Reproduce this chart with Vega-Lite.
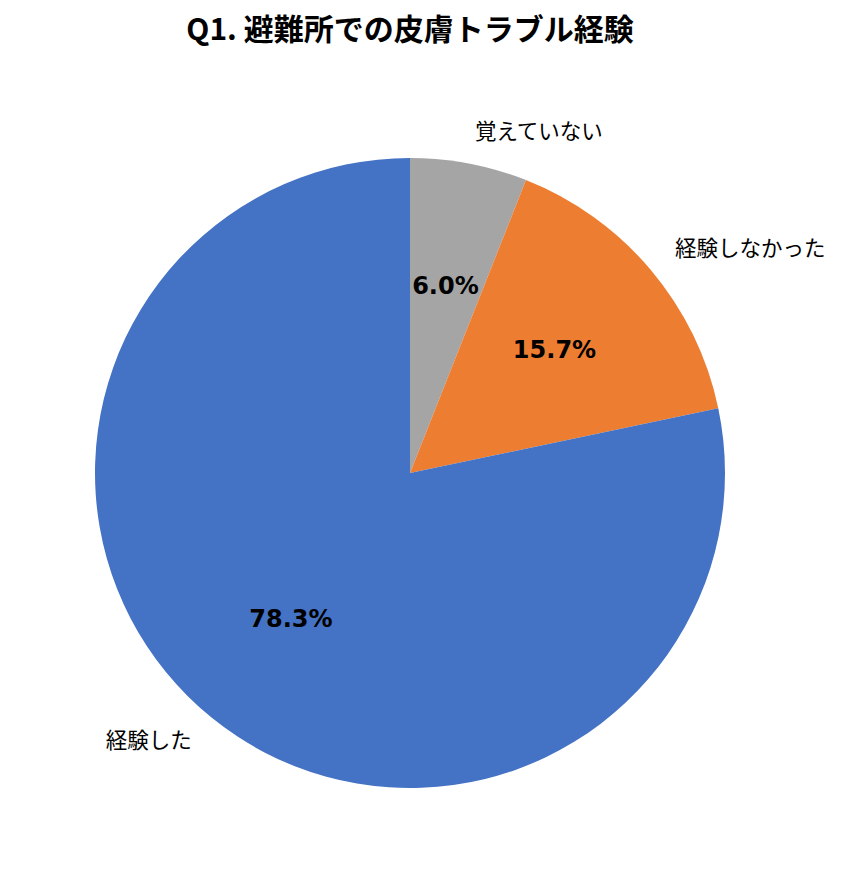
{
  "$schema": "https://vega.github.io/schema/vega-lite/v6.json",
  "width": 820,
  "height": 820,
  "autosize": {"type": "none"},
  "padding": {"left": 0, "top": 63, "right": 30, "bottom": 0},
  "background": "white",
  "title": {
    "text": "Q1. 避難所での皮膚トラブル経験",
    "font": "Noto Sans CJK JP",
    "fontSize": 30,
    "fontWeight": "bold",
    "color": "black",
    "anchor": "middle",
    "offset": 17
  },
  "config": {"view": {"stroke": null}},
  "data": {
    "values": [
      {"category": "覚えていない", "value": 6.0, "pct": "6.0%", "order": 1},
      {"category": "経験しなかった", "value": 15.7, "pct": "15.7%", "order": 2},
      {"category": "経験した", "value": 78.3, "pct": "78.3%", "order": 3}
    ]
  },
  "encoding": {
    "theta": {"field": "value", "type": "quantitative", "stack": true},
    "order": {"field": "order", "type": "quantitative"}
  },
  "layer": [
    {
      "mark": {"type": "arc", "outerRadius": 315},
      "encoding": {
        "color": {
          "field": "category",
          "type": "nominal",
          "scale": {
            "domain": ["覚えていない", "経験しなかった", "経験した"],
            "range": ["#A5A5A5", "#ED7D31", "#4472C4"]
          },
          "legend": null
        }
      }
    },
    {
      "mark": {"type": "text", "radius": 189, "font": "DejaVu Sans", "fontSize": 24, "fontWeight": "bold", "color": "black", "baseline": "middle"},
      "encoding": {"text": {"field": "pct"}}
    },
    {
      "mark": {"type": "text", "radius": 346.5, "font": "Noto Sans CJK JP", "fontSize": 21.5, "color": "black", "align": "left", "baseline": "middle"},
      "encoding": {
        "text": {"condition": {"test": "datum.category != '経験した'", "field": "category"}, "value": ""}
      }
    },
    {
      "mark": {"type": "text", "radius": 346.5, "font": "Noto Sans CJK JP", "fontSize": 21.5, "color": "black", "align": "right", "baseline": "middle"},
      "encoding": {
        "text": {"condition": {"test": "datum.category == '経験した'", "field": "category"}, "value": ""}
      }
    }
  ]
}
